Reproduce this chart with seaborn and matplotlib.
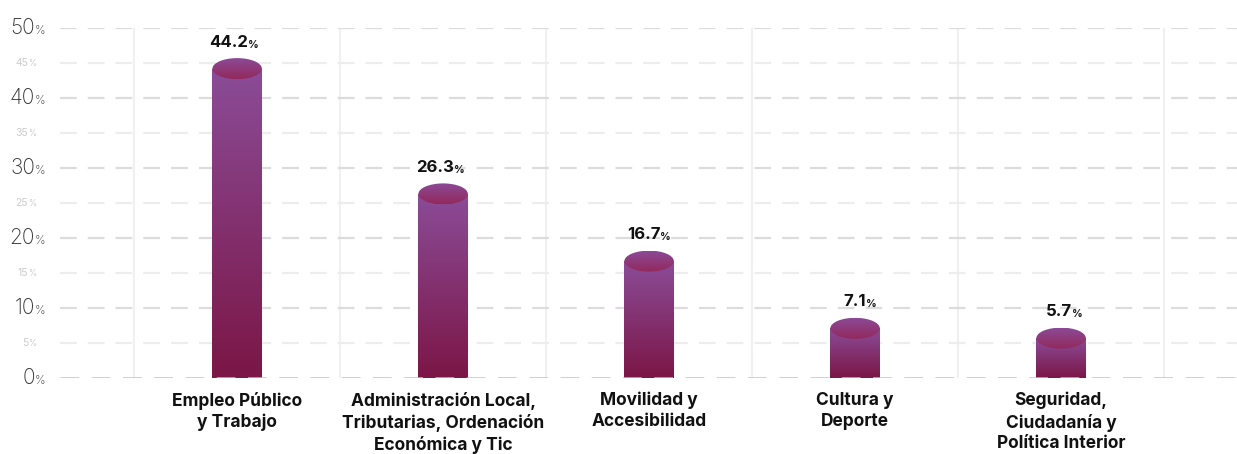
import numpy as np
import pandas as pd
import matplotlib
matplotlib.use('Agg')
import matplotlib.pyplot as plt
import matplotlib.transforms as mtransforms
from matplotlib.colors import LinearSegmentedColormap
from matplotlib.patches import Ellipse
import seaborn as sns

categories = ['Empleo Público\ny Trabajo',
              'Administración Local,\nTributarias, Ordenación\nEconómica y Tic',
              'Movilidad y\nAccesibilidad',
              'Cultura y\nDeporte',
              'Seguridad,\nCiudadanía y\nPolítica Interior']
values = [44.2, 26.3, 16.7, 7.1, 5.7]
value_labels = ['44.2', '26.3', '16.7', '7.1', '5.7']
major_ticks = [0, 10, 20, 30, 40, 50]
minor_ticks = [5, 15, 25, 35, 45]

df = pd.DataFrame({'Categoria': categories, 'Porcentaje': values})

sns.set_style('white')
plt.rcParams['font.family'] = ['Inter', 'DejaVu Sans']

fig = plt.figure(figsize=(12.37, 4.54), dpi=100)
ax = fig.add_axes([0.0485, 0.1674, 0.9515, 0.7709])

bar_w = 0.24
sns.barplot(data=df, x='Categoria', y='Porcentaje', width=bar_w, ax=ax,
            color='#8a4a94', zorder=3)

ax.set_ylim(0, 50)
ax.set_xlim(-0.86, 4.854)
ax.set_xlabel('')
ax.set_ylabel('')
for s in ax.spines.values():
    s.set_visible(False)

# grid
for y in major_ticks[1:] + minor_ticks:
    col = '#dcdcdc' if y in major_ticks else '#ededed'
    ax.axhline(y, color=col, lw=1.6, ls=(0, (7.5, 5)), zorder=1)
ax.axhline(0, color='#c2c2c2', lw=1.8, ls=(0, (7.5, 5)), zorder=6)
for i in range(len(categories) + 1):
    ax.axvline(i - 0.5, color='#f0f0f0', lw=1.5, zorder=0)

# cylinder bars with gradients
body_cmap = LinearSegmentedColormap.from_list('body', ['#7b1646', '#8b4c98'])
top_cmap = LinearSegmentedColormap.from_list('top', ['#93295c', '#8b4a96'])
grad = np.linspace(0, 1, 256).reshape(-1, 1)
cap_h = 3.0
for p, v in zip(ax.patches, values):
    x0 = p.get_x()
    w = p.get_width()
    p.set_facecolor('none')
    p.set_edgecolor('none')
    im = ax.imshow(grad, cmap=body_cmap, origin='lower', aspect='auto',
                   extent=[x0, x0 + w, 0, v], zorder=3)
    im.set_clip_path(p)
    ell = Ellipse((x0 + w / 2, v), w, cap_h, facecolor='none', edgecolor='none', zorder=4)
    ax.add_patch(ell)
    im2 = ax.imshow(grad, cmap=top_cmap, origin='lower', aspect='auto',
                    extent=[x0, x0 + w, v - cap_h / 2, v + cap_h / 2], zorder=4)
    im2.set_clip_path(ell)

ax.set_xlim(-0.86, 4.854)
ax.set_ylim(0, 50)

# value labels
for i, (v, lab) in enumerate(zip(values, value_labels)):
    ax.annotate(lab, xy=(i, v + cap_h / 2), xytext=(8, 6), textcoords='offset points',
                ha='right', va='bottom', fontsize=12, fontweight='bold', color='#111111')
    ax.annotate('%', xy=(i, v + cap_h / 2), xytext=(8, 6), textcoords='offset points',
                ha='left', va='bottom', fontsize=7.5, fontweight='bold', color='#111111')

# y tick labels
ax.set_yticks([])
trans = mtransforms.blended_transform_factory(ax.transAxes, ax.transData)
for y in major_ticks:
    ax.annotate(str(y), xy=(0, y), xycoords=trans, xytext=(-18, 0), textcoords='offset points',
                ha='right', va='center', fontsize=15, fontweight='light', color='#333333')
    ax.annotate('%', xy=(0, y), xycoords=trans, xytext=(-18, -2), textcoords='offset points',
                ha='left', va='center', fontsize=8.5, fontweight='light', color='#333333')
for y in minor_ticks:
    ax.annotate(str(y), xy=(0, y), xycoords=trans, xytext=(-23, 0), textcoords='offset points',
                ha='right', va='center', fontsize=7.5, color='#cccccc')
    ax.annotate('%', xy=(0, y), xycoords=trans, xytext=(-23, -0.5), textcoords='offset points',
                ha='left', va='center', fontsize=6, color='#cccccc')

ax.tick_params(axis='x', length=0, pad=10)
ax.set_xticks(range(len(categories)))
ax.set_xticklabels(categories, fontsize=12.5, fontweight='bold', color='#111111',
                   linespacing=1.3, va='top')

fig.savefig('out.png', dpi=100)
